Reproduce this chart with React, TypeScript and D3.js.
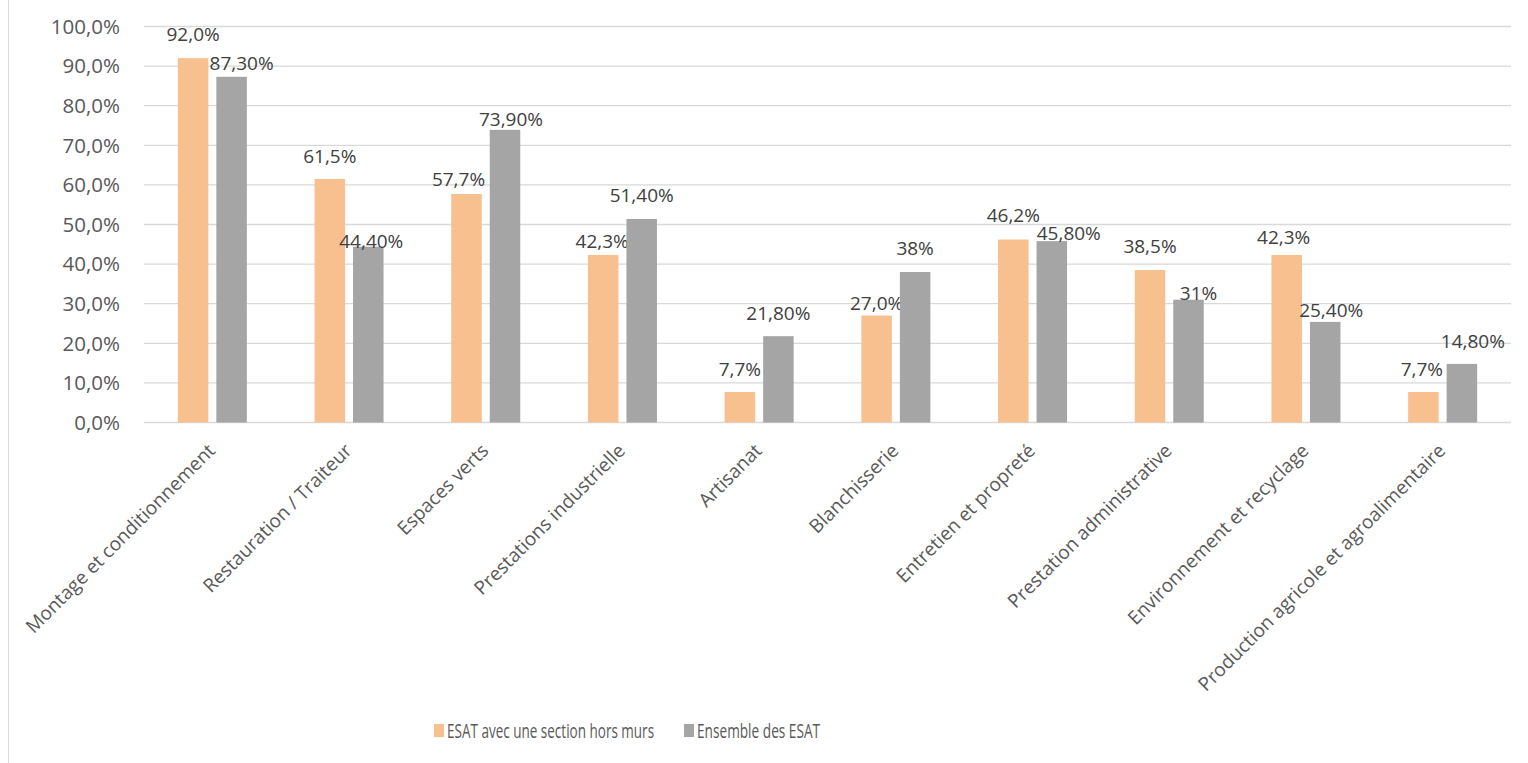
import React, { useLayoutEffect, useRef, useState } from "react";
import * as d3 from "d3";

const categories = [
  "Montage et conditionnement",
  "Restauration / Traiteur",
  "Espaces verts",
  "Prestations industrielle",
  "Artisanat",
  "Blanchisserie",
  "Entretien et propreté",
  "Prestation administrative",
  "Environnement et recyclage",
  "Production agricole et agroalimentaire",
];
const seriesNames = ["ESAT avec une section hors murs", "Ensemble des ESAT"];
const horsMurs = [92.0, 61.5, 57.7, 42.3, 7.7, 27.0, 46.2, 38.5, 42.3, 7.7];
const ensemble = [87.3, 44.4, 73.9, 51.4, 21.8, 38, 45.8, 31, 25.4, 14.8];
const yTicks = [0, 10, 20, 30, 40, 50, 60, 70, 80, 90, 100];

// label nudges (Excel collision avoidance): [dx, distance of label centre above bar top]
const nudgeA: [number, number][] = [[0, 24], [0, 23], [-8, 15], [-1, 14], [0, 23], [0, 12], [0, 24], [0, 24], [-3, 17.5], [-1.5, 23]];
const nudgeB: [number, number][] = [[10, 14], [3, 6], [6, 11], [0, 24], [0, 23], [0, 23.5], [17, 7.5], [10, 6.5], [6, 12], [11, 22.5]];

const colors = ["#F8BF8F", "#A5A5A5"];
const W = 1528, H = 763;
const FONT = "'Open Sans', sans-serif";

const fmtA = (v: number) => v.toFixed(1).replace(".", ",") + "%";
const fmtB = (v: number) => (Number.isInteger(v) ? String(v) : v.toFixed(2).replace(".", ",")) + "%";
const fmtAxis = (v: number) => v.toFixed(1).replace(".", ",") + "%";

const legendItems = [
  { x: 434, tw: 207 },
  { x: 684, tw: 123 },
];

export default function App() {
  const x0 = d3.scaleBand<string>().domain(categories).range([144, 1511]).padding(0);
  const bw = x0.bandwidth();
  const x1 = d3.scaleBand<number>().domain([0, 1]).range([bw / 2 - 34.5, bw / 2 + 34.5]).paddingInner(8 / 38.5);
  const y = d3.scaleLinear().domain([0, 100]).range([422.5, 26.5]);
  const series = [horsMurs, ensemble];
  const nudges = [nudgeA, nudgeB];
  const fmts = [fmtA, fmtB];

  const legRefs = useRef<(SVGTextElement | null)[]>([]);
  const [scales, setScales] = useState<number[]>([0.8, 0.8]);
  useLayoutEffect(() => {
    const s = legendItems.map((l, k) => {
      const el = legRefs.current[k];
      const w = el ? el.getComputedTextLength() : 0;
      return w > 0 ? l.tw / w : 0.8;
    });
    setScales(s);
  }, []);

  return (
    <svg width={W} height={H} style={{ position: "absolute", left: 0, top: 0, background: "#fff" }} fontFamily={FONT}>
      <line x1={8.5} x2={8.5} y1={0} y2={H} stroke="#D9D9D9" strokeWidth={1} />
      {yTicks.map((t) => (
        <g key={t}>
          <line x1={144} x2={1511} y1={y(t)} y2={y(t)} stroke="#D9D9D9" strokeWidth={1.3} />
          <text x={120} y={y(t)} dy="0.36em" textAnchor="end" fontSize={20.5} fill="#595959">
            {fmtAxis(t)}
          </text>
        </g>
      ))}
      {categories.map((c, i) => (
        <g key={c} transform={`translate(${x0(c)},0)`}>
          {series.map((s, k) => {
            const bx = x1(k)!;
            const top = y(s[i]);
            const [dx, above] = nudges[k][i];
            return (
              <g key={k}>
                <rect x={bx} y={top} width={x1.bandwidth()} height={y(0) - top} fill={colors[k]} />
                <text
                  x={bx + x1.bandwidth() / 2 + dx}
                  y={top - above}
                  dy="0.36em"
                  textAnchor="middle"
                  fontSize={19}
                  fill="#404040"
                >
                  {fmts[k](s[i])}
                </text>
              </g>
            );
          })}
          <text
            transform={`translate(${bw / 2 - 1},${447}) rotate(-45)`}
            textAnchor="end"
            dy="0.36em"
            fontSize={19}
            fill="#595959"
          >
            {c}
          </text>
        </g>
      ))}
      {/* legend */}
      {legendItems.map((l, k) => (
        <g key={k}>
          <rect x={l.x} y={724} width={10} height={13} fill={colors[k]} />
          <text
            ref={(el) => {
              legRefs.current[k] = el;
            }}
            transform={`translate(${l.x + 13},${730.5}) scale(${scales[k]},1)`}
            dy="0.36em"
            fontSize={19.5}
            fill="#595959"
          >
            {seriesNames[k]}
          </text>
        </g>
      ))}
    </svg>
  );
}
